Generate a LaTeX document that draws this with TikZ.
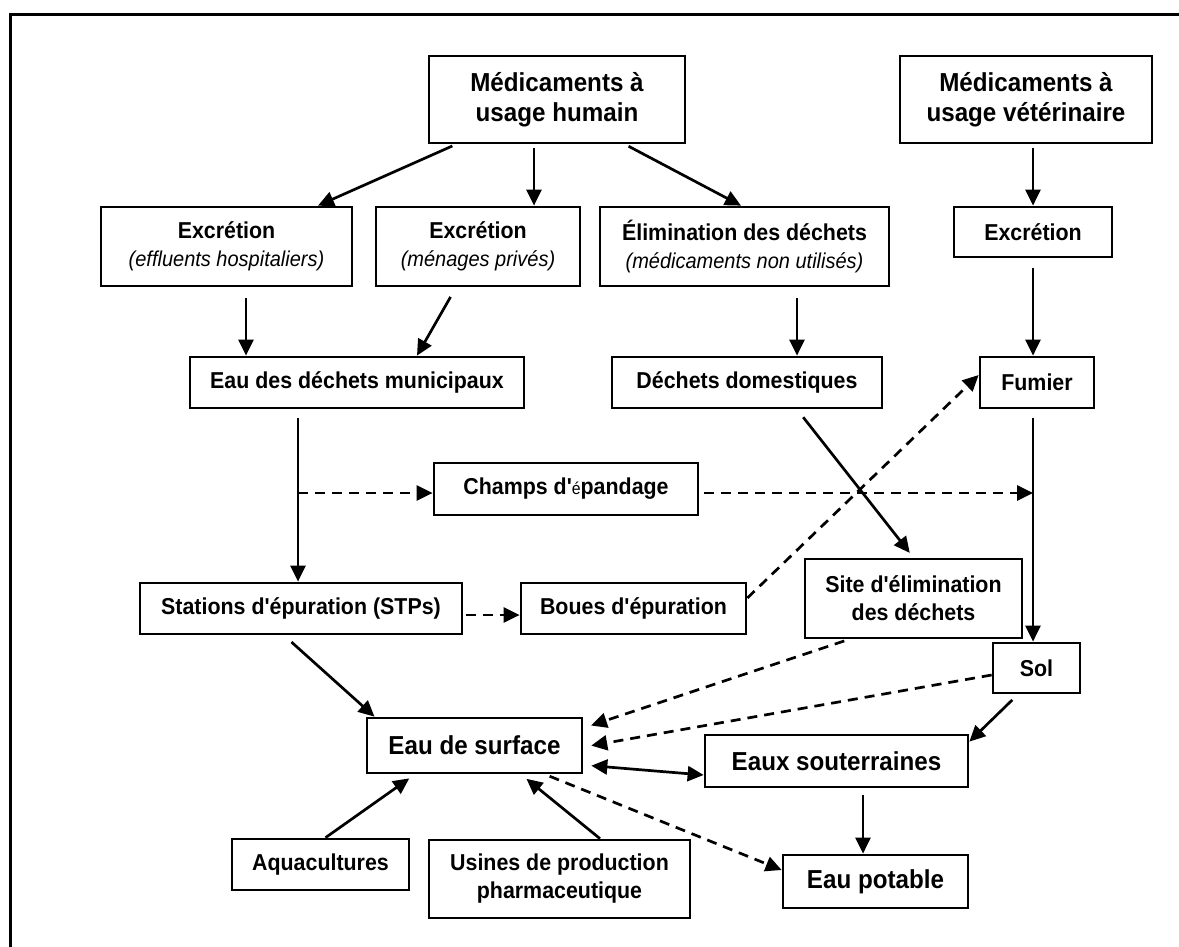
\documentclass[tikz,border=0pt]{standalone}
\usepackage{fontspec}
\setmainfont{Liberation Sans}[Ligatures=TeXOff,FakeStretch=0.93]
\usetikzlibrary{arrows.meta}

\begin{document}
\begin{tikzpicture}[x=1pt,y=-1pt,>={Triangle[length=16pt,width=15pt]}]
    \tikzstyle{block} = [rectangle,draw=black,line width=2.7pt,fill=white,text centered,align=center,inner sep=0pt,font=\fontsize{23}{28}\selectfont\bfseries]
    \tikzstyle{bigblock} = [block,font=\fontsize{26}{30}\selectfont\bfseries]
    \tikzstyle{flow} = [->,line width=2.7pt]
    \tikzstyle{dflow} = [flow,dash pattern=on 10pt off 7pt]
    \newcommand{\sub}[1]{{\fontsize{21.5}{28}\selectfont\mdseries\itshape #1}}

    \useasboundingbox (0,0) rectangle (1179,947);
    \draw [line width=3pt] (10,947) -- (10,15) -- (1179,15);

    % sources
    \node (humain)[bigblock,minimum width=256pt,minimum height=87pt] at (557,99.5) {Médicaments à\\usage humain};
    \node (vet)[bigblock,minimum width=252pt,minimum height=87pt] at (1026,99.5) {Médicaments à\\usage vétérinaire};

    \node (exchosp)[block,minimum width=251pt,minimum height=79pt] at (226.5,246.5) {Excrétion\\\sub{(effluents hospitaliers)}};
    \node (excmen)[block,minimum width=204pt,minimum height=79pt] at (478,246.5) {Excrétion\\\sub{(ménages privés)}};
    \node (elim)[block,minimum width=289pt,minimum height=79pt] at (744.5,246.5) {Élimination des déchets\\\sub{(médicaments non utilisés)}};
    \node (excvet)[block,minimum width=158pt,minimum height=50pt] at (1033,232) {Excrétion};

    \node (eaumun)[block,minimum width=334pt,minimum height=51pt] at (357,382.5) {Eau des déchets municipaux};
    \node (dechdom)[block,minimum width=270pt,minimum height=51pt] at (747,382.5) {Déchets domestiques};
    \node (fumier)[block,minimum width=114pt,minimum height=51pt] at (1037,382.5) {Fumier};

    \node (champs)[block,minimum width=264pt,minimum height=52pt] at (566,489) {Champs d'{\fontsize{17}{20}\selectfont\mdseries é}pandage};

    \node (stations)[block,minimum width=322pt,minimum height=51pt] at (301,608.5) {Stations d'épuration (STPs)};
    \node (boues)[block,minimum width=225pt,minimum height=51pt] at (633.5,608.5) {Boues d'épuration};
    \node (site)[block,minimum width=217pt,minimum height=79pt] at (913.5,598.5) {Site d'élimination\\des déchets};
    \node (sol)[block,minimum width=87pt,minimum height=50pt] at (1036.5,668) {Sol};

    % waters
    \node (surface)[bigblock,minimum width=215pt,minimum height=55pt] at (474.5,745.5) {Eau de surface};
    \node (eauxsout)[bigblock,minimum width=263pt,minimum height=52pt] at (836.5,761) {Eaux souterraines};
    \node (aqua)[block,minimum width=177pt,minimum height=51pt] at (320.5,864.5) {Aquacultures};
    \node (usines)[block,minimum width=261pt,minimum height=78pt] at (559.5,879) {Usines de production\\pharmaceutique};
    \node (potable)[bigblock,minimum width=185pt,minimum height=53pt] at (875.5,881.5) {Eau potable};

    \coordinate (split) at (298,493);
    \coordinate (join) at (1033,493);

    \draw [flow,shorten <=4pt] ([xshift=-101pt]humain.south) -- ([xshift=91.5pt]exchosp.north);
    \draw [flow,shorten <=4pt] ([xshift=-23pt]humain.south) -- ([xshift=56pt]excmen.north);
    \draw [flow,shorten <=4pt] ([xshift=68pt]humain.south) -- ([xshift=-3.5pt]elim.north);
    \draw [flow,shorten <=4pt] ([xshift=7pt]vet.south) -- (excvet.north);

    \draw [flow,shorten <=11pt] ([xshift=19.5pt]exchosp.south) -- ([xshift=-111pt]eaumun.north);
    \draw [flow,shorten <=11pt] ([xshift=-22pt]excmen.south) -- ([xshift=60pt]eaumun.north);
    \draw [flow,shorten <=11pt] ([xshift=52.5pt]elim.south) -- ([xshift=50pt]dechdom.north);
    \draw [flow,shorten <=10pt] (excvet.south) -- ([xshift=-4pt]fumier.north);

    \draw [flow,shorten <=9pt] ([xshift=-59pt]eaumun.south) -- ([xshift=-3pt]stations.north);
    \draw [flow,shorten <=9pt] ([xshift=-4pt]fumier.south) -- ([xshift=-3.5pt]sol.north);
    \draw [dflow] (split) -- (champs.west |- split);
    \draw [dflow,shorten <=5pt] (champs.east |- join) -- (join);
    \draw [flow,shorten <=10pt,shorten >=6pt] ([xshift=50pt]dechdom.south) -- (site.north);

    \draw [dflow,shorten <=3pt] ([yshift=-6.5pt]stations.east) -- ([yshift=-6.5pt]boues.west);
    \draw [dflow] ([yshift=10.5pt]boues.east) -- ([yshift=7.5pt]fumier.west);

    \draw [flow,shorten <=10pt] ([xshift=-17pt]stations.south) -- ([xshift=-100pt]surface.north);
    \draw [dflow,shorten <=5pt,shorten >=8pt] ([xshift=-64.5pt]site.south) -- ([yshift=17.5pt]surface.east);
    \draw [dflow,shorten >=8pt] ([yshift=-7pt]sol.west) -- ([yshift=-1.5pt]surface.east);
    \draw [flow,<->,shorten <=8pt] ([yshift=-19.5pt]surface.east) -- ([yshift=-14pt]eauxsout.west);
    \draw [flow,shorten <=8pt] ([xshift=-18.5pt]sol.south) -- ([yshift=-8pt]eauxsout.north east);
    \draw [flow,shorten <=7pt] ([xshift=26.5pt]eauxsout.south) -- ([xshift=-12.5pt]potable.north);
    \draw [dflow,shorten <=5pt] ([xshift=70.5pt]surface.south) -- ([yshift=11.5pt]potable.west);

    \draw [flow,shorten >=7pt] ([xshift=5pt]aqua.north) -- ([xshift=-59.5pt]surface.south);
    \draw [flow,shorten >=7pt] ([xshift=40.5pt]usines.north) -- ([xshift=46.5pt]surface.south);
\end{tikzpicture}
\end{document}
